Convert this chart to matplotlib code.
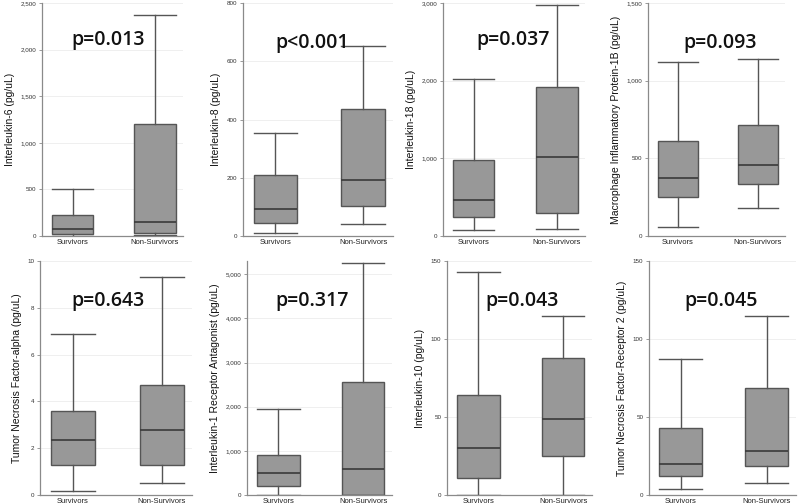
import matplotlib
matplotlib.use('Agg')
import matplotlib.pyplot as plt
from matplotlib.ticker import FuncFormatter

groups = ['Survivors', 'Non-Survivors']

y_labels = [
    'Interleukin-6 (pg/uL)',
    'Interleukin-8 (pg/uL)',
    'Interleukin-18 (pg/uL)',
    'Macrophage Inflammatory Protein-1B (pg/uL)',
    'Tumor Necrosis Factor-alpha (pg/uL)',
    'Interleukin-1 Receptor Antagonist (pg/uL)',
    'Interleukin-10 (pg/uL)',
    'Tumor Necrosis Factor-Receptor 2 (pg/uL)',
]
p_texts = ['p=0.013', 'p<0.001', 'p=0.037', 'p=0.093',
           'p=0.643', 'p=0.317', 'p=0.043', 'p=0.045']

# low whisker, Q1, median, Q3, high whisker  -> [survivors, non-survivors]
il6 = [[3, 21, 72, 222, 504], [10, 35, 150, 1200, 2370]]
il8 = [[12, 43, 93, 209, 354], [41, 102, 191, 435, 654]]
il18 = [[73, 244, 467, 981, 2023], [90, 291, 1020, 1916, 2974]]
mip1b = [[58, 253, 371, 613, 1123], [178, 337, 455, 712, 1141]]
tnfa = [[0.16, 1.30, 2.34, 3.58, 6.9], [0.52, 1.30, 2.79, 4.70, 9.31]]
il1ra = [[0, 204, 490, 912, 1938], [0, 5, 588, 2549, 5264]]
il10 = [[0, 11.2, 29.9, 64.3, 143], [0, 24.7, 49.0, 87.7, 115]]
tnfr2 = [[3.9, 12.2, 19.8, 42.8, 87], [7.5, 18.9, 27.9, 68.8, 115]]
panels = [il6, il8, il18, mip1b, tnfa, il1ra, il10, tnfr2]

y_limits = [2500, 800, 3000, 1500, 10, 5300, 150, 150]
y_steps = [500, 200, 1000, 500, 2, 1000, 50, 50]

# axes boxes in pixels: left, right, top, bottom
px_boxes = [(42, 183, 3, 236), (243, 393, 3, 236), (443, 585, 3, 236), (648, 785, 3, 236),
            (40, 192, 261, 495), (247, 392, 261, 495), (447, 592, 261, 495), (649, 796, 261, 495)]
p_pos = [(0.47, 0.84), (0.46, 0.83), (0.49, 0.84), (0.53, 0.83),
         (0.45, 0.83), (0.45, 0.83), (0.52, 0.83), (0.49, 0.83)]

W, H = 800, 504
fig = plt.figure(figsize=(8, 5.04), dpi=100)

box_face = '#989898'
edge = '#555555'
axis_col = '#8a8a8a'

for i, stats in enumerate(panels):
    l, r, t, b = px_boxes[i]
    ax = fig.add_axes([l / W, 1 - b / H, (r - l) / W, (b - t) / H])
    bxp_stats = []
    for g, s in zip(groups, stats):
        bxp_stats.append({'whislo': s[0], 'q1': s[1], 'med': s[2], 'q3': s[3],
                          'whishi': s[4], 'fliers': [], 'label': g})
    ax.bxp(bxp_stats, positions=[1, 2], widths=0.5, capwidths=0.5,
           showfliers=False, patch_artist=True,
           boxprops=dict(facecolor=box_face, edgecolor=edge, linewidth=1),
           medianprops=dict(color='#3a3a3a', linewidth=1.2),
           whiskerprops=dict(color=edge, linewidth=1),
           capprops=dict(color=edge, linewidth=1))
    ax.set_xlim(0.63, 2.34)
    ax.set_ylim(0, y_limits[i])
    step = y_steps[i]
    ticks = [k * step for k in range(int(y_limits[i] // step) + 1)]
    ax.set_yticks(ticks)
    ax.yaxis.set_major_formatter(FuncFormatter(lambda v, pos: f'{v:,.0f}'))
    ax.set_axisbelow(True)
    ax.grid(axis='y', color='#ececec', linewidth=0.6)
    for side in ['top', 'right']:
        ax.spines[side].set_visible(False)
    for side in ['left', 'bottom']:
        ax.spines[side].set_color(axis_col)
        ax.spines[side].set_linewidth(0.9)
    ax.tick_params(axis='y', labelsize=4.5, colors='#333333', length=2, width=0.6,
                   color=axis_col, pad=2)
    ax.tick_params(axis='x', labelsize=5.5, colors='#222222', length=0, pad=2)
    ax.set_ylabel(y_labels[i], fontsize=7.5, color='#111111', fontfamily='Liberation Sans',
                  labelpad=4)
    for lab in ax.get_xticklabels() + ax.get_yticklabels():
        lab.set_fontfamily('Liberation Sans')
    ax.text(p_pos[i][0], p_pos[i][1], p_texts[i], transform=ax.transAxes,
            ha='center', va='center', fontsize=14, fontfamily='Open Sans',
            fontweight='semibold', color='#111111')

fig.savefig('out.png', dpi=100)
